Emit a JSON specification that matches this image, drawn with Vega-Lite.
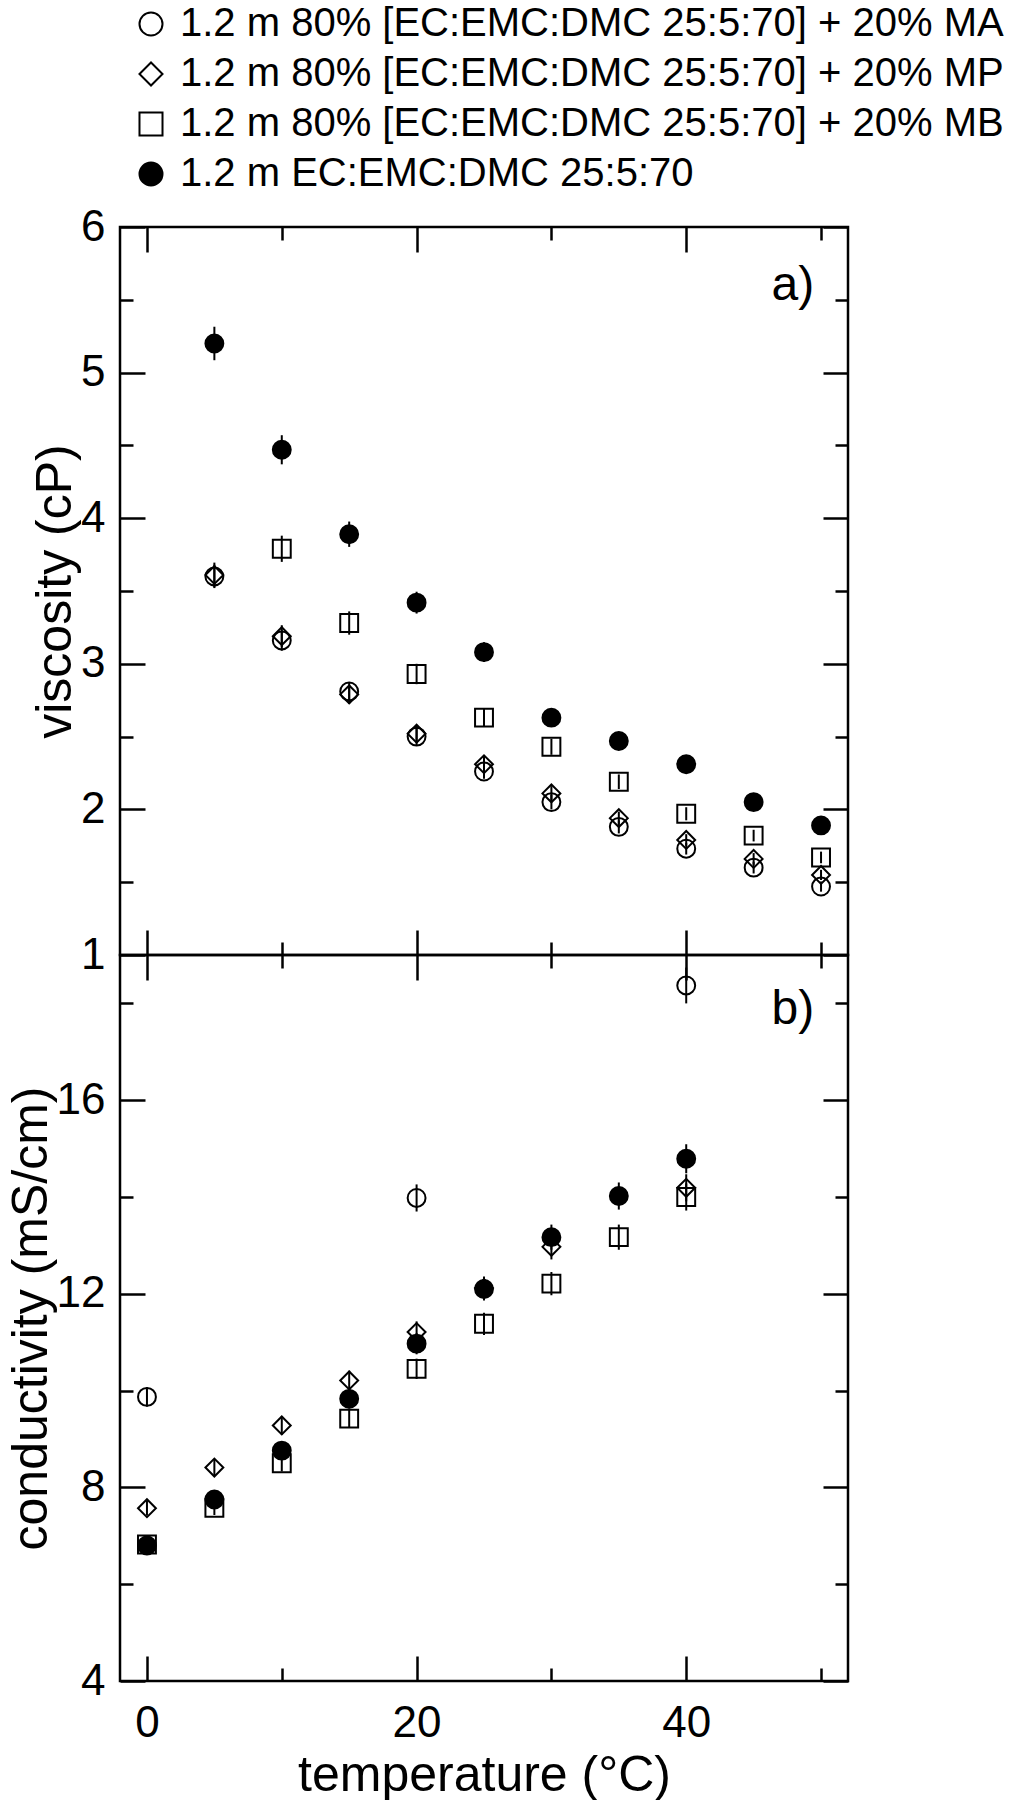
{
  "$schema": "https://vega.github.io/schema/vega-lite/v6.json",
  "background": "white",
  "padding": {"left": 4, "top": 2, "right": 0, "bottom": 0},
  "bounds": "flush",
  "spacing": 0,
  "datasets": {
    "visc": [
      {"s": "MA", "T": 5, "v": 3.60, "e": 0.08},
      {"s": "MA", "T": 10, "v": 3.16, "e": 0.07},
      {"s": "MA", "T": 15, "v": 2.81, "e": 0.065},
      {"s": "MA", "T": 20, "v": 2.50, "e": 0.06},
      {"s": "MA", "T": 25, "v": 2.26, "e": 0.05},
      {"s": "MA", "T": 30, "v": 2.05, "e": 0.05},
      {"s": "MA", "T": 35, "v": 1.88, "e": 0.045},
      {"s": "MA", "T": 40, "v": 1.73, "e": 0.04},
      {"s": "MA", "T": 45, "v": 1.60, "e": 0.04},
      {"s": "MA", "T": 50, "v": 1.47, "e": 0.035},
      {"s": "MP", "T": 5, "v": 3.61, "e": 0.085},
      {"s": "MP", "T": 10, "v": 3.19, "e": 0.075},
      {"s": "MP", "T": 15, "v": 2.79, "e": 0.065},
      {"s": "MP", "T": 20, "v": 2.52, "e": 0.06},
      {"s": "MP", "T": 25, "v": 2.31, "e": 0.055},
      {"s": "MP", "T": 30, "v": 2.11, "e": 0.05},
      {"s": "MP", "T": 35, "v": 1.94, "e": 0.045},
      {"s": "MP", "T": 40, "v": 1.79, "e": 0.04},
      {"s": "MP", "T": 45, "v": 1.66, "e": 0.04},
      {"s": "MP", "T": 50, "v": 1.55, "e": 0.035},
      {"s": "MB", "T": 10, "v": 3.79, "e": 0.09},
      {"s": "MB", "T": 15, "v": 3.28, "e": 0.08},
      {"s": "MB", "T": 20, "v": 2.93, "e": 0.07},
      {"s": "MB", "T": 25, "v": 2.63, "e": 0.06},
      {"s": "MB", "T": 30, "v": 2.43, "e": 0.055},
      {"s": "MB", "T": 35, "v": 2.19, "e": 0.05},
      {"s": "MB", "T": 40, "v": 1.97, "e": 0.045},
      {"s": "MB", "T": 45, "v": 1.82, "e": 0.04},
      {"s": "MB", "T": 50, "v": 1.67, "e": 0.04},
      {"s": "base", "T": 5, "v": 5.20, "e": 0.115},
      {"s": "base", "T": 10, "v": 4.47, "e": 0.10},
      {"s": "base", "T": 15, "v": 3.89, "e": 0.087},
      {"s": "base", "T": 20, "v": 3.42, "e": 0.075},
      {"s": "base", "T": 25, "v": 3.08, "e": 0.068},
      {"s": "base", "T": 30, "v": 2.63, "e": 0.06},
      {"s": "base", "T": 35, "v": 2.47, "e": 0.055},
      {"s": "base", "T": 40, "v": 2.31, "e": 0.05},
      {"s": "base", "T": 45, "v": 2.05, "e": 0.045},
      {"s": "base", "T": 50, "v": 1.89, "e": 0.04}
    ],
    "cond": [
      {"s": "MA", "T": 0, "v": 9.87, "e": 0.2},
      {"s": "MA", "T": 20, "v": 13.98, "e": 0.28},
      {"s": "MA", "T": 40, "v": 18.37, "e": 0.37},
      {"s": "MP", "T": 0, "v": 7.57, "e": 0.15},
      {"s": "MP", "T": 5, "v": 8.41, "e": 0.17},
      {"s": "MP", "T": 10, "v": 9.28, "e": 0.19},
      {"s": "MP", "T": 15, "v": 10.21, "e": 0.2},
      {"s": "MP", "T": 20, "v": 11.21, "e": 0.22},
      {"s": "MP", "T": 25, "v": 12.12, "e": 0.24},
      {"s": "MP", "T": 30, "v": 12.97, "e": 0.26},
      {"s": "MP", "T": 40, "v": 14.19, "e": 0.28},
      {"s": "MB", "T": 0, "v": 6.82, "e": 0.14},
      {"s": "MB", "T": 5, "v": 7.58, "e": 0.15},
      {"s": "MB", "T": 10, "v": 8.50, "e": 0.17},
      {"s": "MB", "T": 15, "v": 9.42, "e": 0.19},
      {"s": "MB", "T": 20, "v": 10.45, "e": 0.21},
      {"s": "MB", "T": 25, "v": 11.38, "e": 0.23},
      {"s": "MB", "T": 30, "v": 12.21, "e": 0.24},
      {"s": "MB", "T": 35, "v": 13.17, "e": 0.26},
      {"s": "MB", "T": 40, "v": 14.00, "e": 0.28},
      {"s": "base", "T": 0, "v": 6.80, "e": 0.14},
      {"s": "base", "T": 5, "v": 7.75, "e": 0.16},
      {"s": "base", "T": 10, "v": 8.76, "e": 0.18},
      {"s": "base", "T": 15, "v": 9.83, "e": 0.2},
      {"s": "base", "T": 20, "v": 10.97, "e": 0.22},
      {"s": "base", "T": 25, "v": 12.10, "e": 0.24},
      {"s": "base", "T": 30, "v": 13.17, "e": 0.26},
      {"s": "base", "T": 35, "v": 14.02, "e": 0.28},
      {"s": "base", "T": 40, "v": 14.79, "e": 0.3}
    ]
  },
  "resolve": {"scale": {"shape": "independent", "fill": "independent", "stroke": "independent"}},
  "vconcat": [
    {
      "width": 728,
      "height": 728,
      "data": {"name": "visc"},
      "resolve": {"axis": {"x": "independent", "y": "independent"}},
      "layer": [
        {
          "mark": {"type": "point", "filled": true, "size": 320, "strokeWidth": 2, "opacity": 1},
          "encoding": {
            "x": {"field": "T", "type": "quantitative", "scale": {"domain": [-2, 52], "nice": false, "zero": false},
                  "axis": {"orient": "bottom", "values": [0, 20, 40], "tickSize": -25, "labels": false, "title": null}},
            "y": {"field": "v", "type": "quantitative", "scale": {"domain": [1, 6], "nice": false, "zero": false},
                  "axis": {"orient": "left", "values": [1, 2, 3, 4, 5, 6], "tickSize": -25, "labelPadding": 40, "title": "viscosity (cP)", "titleFontSize": 50, "titlePadding": 0}},
            "shape": {"field": "s", "type": "nominal",
                      "scale": {"domain": ["MA", "MP", "MB", "base"], "range": ["circle", "diamond", "square", "circle"]},
                      "legend": {"orient": "none", "legendX": 11, "legendY": -223, "title": null, "labelExpr": "datum.label == 'base' ? '1.2 m EC:EMC:DMC 25:5:70' : '1.2 m 80% [EC:EMC:DMC 25:5:70] + 20% ' + datum.label"}},
            "fill": {"field": "s", "type": "nominal",
                     "scale": {"domain": ["MA", "MP", "MB", "base"], "range": ["transparent", "transparent", "transparent", "black"]},
                     "legend": {"orient": "none", "legendX": 11, "legendY": -223, "title": null, "labelExpr": "datum.label == 'base' ? '1.2 m EC:EMC:DMC 25:5:70' : '1.2 m 80% [EC:EMC:DMC 25:5:70] + 20% ' + datum.label"}},
            "stroke": {"field": "s", "type": "nominal",
                     "scale": {"domain": ["MA", "MP", "MB", "base"], "range": ["black", "black", "black", "black"]},
                     "legend": {"orient": "none", "legendX": 11, "legendY": -223, "title": null, "labelExpr": "datum.label == 'base' ? '1.2 m EC:EMC:DMC 25:5:70' : '1.2 m 80% [EC:EMC:DMC 25:5:70] + 20% ' + datum.label"}}
          }
        },
        {
          "mark": {"type": "errorbar", "color": "black", "thickness": 2},
          "encoding": {
            "x": {"field": "T", "type": "quantitative", "axis": {"orient": "top", "values": [0, 20, 40], "tickSize": -25, "labels": false, "title": null}},
            "y": {"field": "v", "type": "quantitative", "axis": {"orient": "right", "values": [1, 2, 3, 4, 5, 6], "tickSize": -25, "labels": false, "title": null}},
            "yError": {"field": "e"}
          }
        },
        {
          "mark": {"type": "point", "opacity": 0},
          "encoding": {
            "x": {"field": "T", "type": "quantitative", "axis": {"orient": "bottom", "values": [10, 30, 50], "tickSize": -13, "labels": false, "title": null}},
            "y": {"field": "v", "type": "quantitative", "axis": {"orient": "left", "values": [1.5, 2.5, 3.5, 4.5, 5.5], "tickSize": -13, "labels": false, "title": null}}
          }
        },
        {
          "mark": {"type": "point", "opacity": 0},
          "encoding": {
            "x": {"field": "T", "type": "quantitative", "axis": {"orient": "top", "values": [10, 30, 50], "tickSize": -13, "labels": false, "title": null}},
            "y": {"field": "v", "type": "quantitative", "axis": {"orient": "right", "values": [1.5, 2.5, 3.5, 4.5, 5.5], "tickSize": -13, "labels": false, "title": null}}
          }
        },
        {
          "data": {"values": [{"label": "a)"}]},
          "mark": {"type": "text", "font": "Liberation Sans", "fontSize": 48, "fontWeight": "normal", "align": "right", "baseline": "alphabetic", "color": "black"},
          "encoding": {
            "x": {"datum": 49.5, "type": "quantitative", "axis": null},
            "y": {"datum": 5.5, "type": "quantitative", "axis": null},
            "text": {"field": "label"}
          }
        }
      ]
    },
    {
      "width": 728,
      "height": 726,
      "data": {"name": "cond"},
      "resolve": {"axis": {"x": "independent", "y": "independent"}},
      "layer": [
        {
          "mark": {"type": "point", "filled": true, "size": 320, "strokeWidth": 2, "opacity": 1},
          "encoding": {
            "x": {"field": "T", "type": "quantitative", "scale": {"domain": [-2, 52], "nice": false, "zero": false},
                  "axis": {"orient": "bottom", "values": [0, 20, 40], "tickSize": -25, "labelPadding": 45, "title": "temperature (°C)", "titleFontSize": 50, "titlePadding": 5}},
            "y": {"field": "v", "type": "quantitative", "scale": {"domain": [4, 19], "nice": false, "zero": false},
                  "axis": {"orient": "left", "values": [4, 8, 12, 16], "tickSize": -25, "labelPadding": 40, "title": "conductivity (mS/cm)", "titleFontSize": 50, "titlePadding": 0}},
            "shape": {"field": "s", "type": "nominal",
                      "scale": {"domain": ["MA", "MP", "MB", "base"], "range": ["circle", "diamond", "square", "circle"]}, "legend": null},
            "fill": {"field": "s", "type": "nominal",
                     "scale": {"domain": ["MA", "MP", "MB", "base"], "range": ["transparent", "transparent", "transparent", "black"]}, "legend": null},
            "stroke": {"field": "s", "type": "nominal",
                     "scale": {"domain": ["MA", "MP", "MB", "base"], "range": ["black", "black", "black", "black"]}, "legend": null}
          }
        },
        {
          "mark": {"type": "errorbar", "color": "black", "thickness": 2},
          "encoding": {
            "x": {"field": "T", "type": "quantitative", "axis": {"orient": "top", "values": [0, 20, 40], "tickSize": -25, "labels": false, "title": null}},
            "y": {"field": "v", "type": "quantitative", "axis": {"orient": "right", "values": [4, 8, 12, 16], "tickSize": -25, "labels": false, "title": null}},
            "yError": {"field": "e"}
          }
        },
        {
          "mark": {"type": "point", "opacity": 0},
          "encoding": {
            "x": {"field": "T", "type": "quantitative", "axis": {"orient": "bottom", "values": [10, 30, 50], "tickSize": -13, "labels": false, "title": null}},
            "y": {"field": "v", "type": "quantitative", "axis": {"orient": "left", "values": [6, 10, 14, 18], "tickSize": -13, "labels": false, "title": null}}
          }
        },
        {
          "mark": {"type": "point", "opacity": 0},
          "encoding": {
            "x": {"field": "T", "type": "quantitative", "axis": {"orient": "top", "values": [10, 30, 50], "tickSize": -13, "labels": false, "title": null}},
            "y": {"field": "v", "type": "quantitative", "axis": {"orient": "right", "values": [6, 10, 14, 18], "tickSize": -13, "labels": false, "title": null}}
          }
        },
        {
          "data": {"values": [{"label": "b)"}]},
          "mark": {"type": "text", "font": "Liberation Sans", "fontSize": 48, "fontWeight": "normal", "align": "right", "baseline": "alphabetic", "color": "black"},
          "encoding": {
            "x": {"datum": 49.5, "type": "quantitative", "axis": null},
            "y": {"datum": 17.57, "type": "quantitative", "axis": null},
            "text": {"field": "label"}
          }
        }
      ]
    }
  ],
  "config": {
    "font": "Liberation Sans",
    "view": {"stroke": "black", "strokeWidth": 2.5},
    "axis": {
      "domain": false, "grid": false, "ticks": true,
      "tickColor": "black", "tickWidth": 2.5,
      "labelFont": "Liberation Sans", "labelFontSize": 44, "labelColor": "black",
      "labelFlush": false, "labelOverlap": false,
      "titleFont": "Liberation Sans", "titleFontWeight": "normal", "titleColor": "black"
    },
    "legend": {
      "labelFont": "Liberation Sans", "labelFontSize": 40, "labelColor": "black", "labelLimit": 1200,
      "symbolSize": 530, "symbolStrokeWidth": 2, "symbolStrokeColor": "black",
      "rowPadding": 10, "labelOffset": 9, "direction": "vertical", "padding": 0
    }
  }
}
